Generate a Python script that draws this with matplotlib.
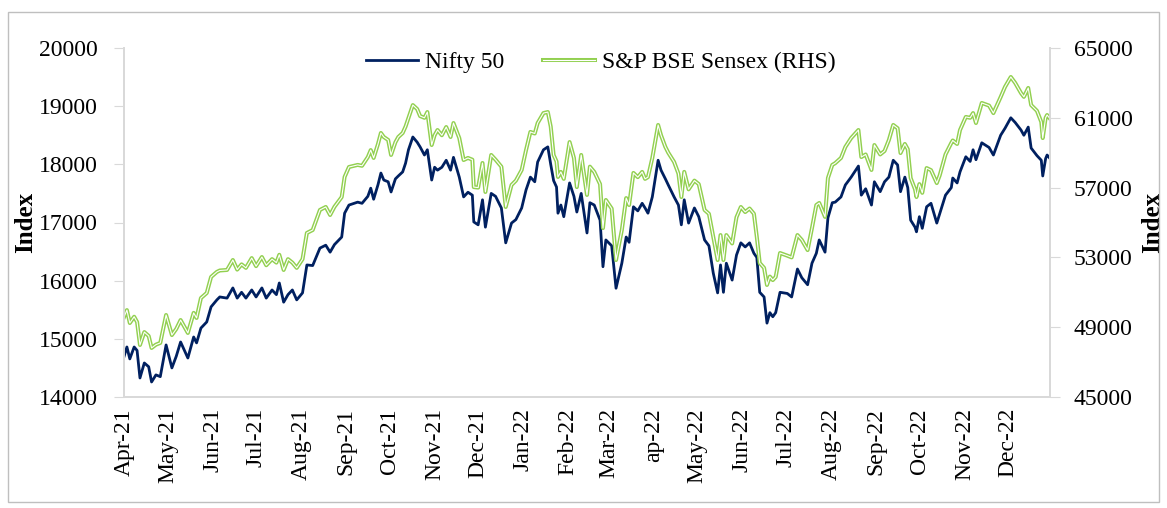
import matplotlib.pyplot as plt
import matplotlib.patheffects as pe
from matplotlib.patches import Rectangle
import pandas as pd

plt.rcParams['font.family'] = ['Liberation Serif', 'DejaVu Serif']

dates = [
    "2021-04-01", "2021-04-03", "2021-04-05", "2021-04-08", "2021-04-10", "2021-04-12",
    "2021-04-15", "2021-04-18", "2021-04-20", "2021-04-23", "2021-04-26", "2021-04-30",
    "2021-05-04", "2021-05-07", "2021-05-10", "2021-05-15", "2021-05-19", "2021-05-21",
    "2021-05-24", "2021-05-28", "2021-05-31", "2021-06-04", "2021-06-06", "2021-06-11",
    "2021-06-15", "2021-06-18", "2021-06-21", "2021-06-24", "2021-06-28", "2021-07-01",
    "2021-07-05", "2021-07-08", "2021-07-12", "2021-07-15", "2021-07-17", "2021-07-20",
    "2021-07-23", "2021-07-26", "2021-07-29", "2021-08-02", "2021-08-05", "2021-08-09",
    "2021-08-14", "2021-08-18", "2021-08-21", "2021-08-24", "2021-08-29", "2021-08-31",
    "2021-09-03", "2021-09-09", "2021-09-12", "2021-09-16", "2021-09-18", "2021-09-20",
    "2021-09-23", "2021-09-25", "2021-09-27", "2021-09-30", "2021-10-02", "2021-10-05",
    "2021-10-07", "2021-10-10", "2021-10-12", "2021-10-14", "2021-10-17", "2021-10-20",
    "2021-10-22", "2021-10-25", "2021-10-27", "2021-10-30", "2021-11-01", "2021-11-03",
    "2021-11-06", "2021-11-09", "2021-11-12", "2021-11-14", "2021-11-18", "2021-11-21",
    "2021-11-24", "2021-11-27", "2021-11-28", "2021-12-01", "2021-12-04", "2021-12-06",
    "2021-12-10", "2021-12-13", "2021-12-17", "2021-12-20", "2021-12-24", "2021-12-27",
    "2021-12-31", "2022-01-03", "2022-01-06", "2022-01-09", "2022-01-11", "2022-01-15",
    "2022-01-18", "2022-01-20", "2022-01-22", "2022-01-24", "2022-01-25", "2022-01-27",
    "2022-01-29", "2022-02-02", "2022-02-05", "2022-02-07", "2022-02-10", "2022-02-14",
    "2022-02-16", "2022-02-19", "2022-02-23", "2022-02-25", "2022-02-27", "2022-03-03",
    "2022-03-06", "2022-03-10", "2022-03-13", "2022-03-15", "2022-03-18", "2022-03-21",
    "2022-03-24", "2022-03-26", "2022-03-28", "2022-03-31", "2022-04-04", "2022-04-06",
    "2022-04-09", "2022-04-11", "2022-04-15", "2022-04-18", "2022-04-20", "2022-04-22",
    "2022-04-25", "2022-04-29", "2022-05-02", "2022-05-06", "2022-05-09", "2022-05-12",
    "2022-05-15", "2022-05-17", "2022-05-19", "2022-05-21", "2022-05-25", "2022-05-28",
    "2022-05-31", "2022-06-03", "2022-06-06", "2022-06-09", "2022-06-11", "2022-06-13",
    "2022-06-16", "2022-06-18", "2022-06-20", "2022-06-22", "2022-06-24", "2022-06-27",
    "2022-07-02", "2022-07-05", "2022-07-09", "2022-07-12", "2022-07-16", "2022-07-19",
    "2022-07-22", "2022-07-24", "2022-07-28", "2022-07-30", "2022-08-02", "2022-08-04",
    "2022-08-08", "2022-08-11", "2022-08-15", "2022-08-20", "2022-08-22", "2022-08-25",
    "2022-08-29", "2022-08-31", "2022-09-04", "2022-09-07", "2022-09-10", "2022-09-13",
    "2022-09-16", "2022-09-18", "2022-09-21", "2022-09-23", "2022-09-25", "2022-09-28",
    "2022-09-29", "2022-10-01", "2022-10-03", "2022-10-06", "2022-10-09", "2022-10-13",
    "2022-10-15", "2022-10-19", "2022-10-23", "2022-10-24", "2022-10-27", "2022-10-29",
    "2022-11-02", "2022-11-05", "2022-11-07", "2022-11-09", "2022-11-13", "2022-11-18",
    "2022-11-21", "2022-11-26", "2022-11-29", "2022-12-03", "2022-12-06", "2022-12-10",
    "2022-12-12", "2022-12-15", "2022-12-17", "2022-12-21", "2022-12-24", "2022-12-25",
    "2022-12-27", "2022-12-28", "2022-12-30",
]

nifty = [
    14693, 14860, 14655, 14860, 14800, 14327, 14585, 14520, 14258, 14380, 14350, 14895,
    14500, 14700, 14946, 14670, 15032, 14930, 15185, 15290, 15550, 15670, 15720, 15700,
    15875, 15700, 15800, 15700, 15840, 15720, 15875, 15700, 15840, 15760, 15960, 15630,
    15760, 15840, 15670, 15790, 16270, 16260, 16560, 16610, 16490, 16620, 16750, 17160,
    17300, 17350, 17330, 17450, 17590, 17400, 17650, 17850, 17730, 17700, 17525, 17750,
    17800, 17870, 18020, 18250, 18470, 18380, 18300, 18160, 18250, 17730, 17950, 17900,
    17950, 18070, 17900, 18120, 17780, 17440, 17520, 17470, 17010, 16960, 17390, 16920,
    17500, 17450, 17250, 16650, 16990, 17050, 17250, 17560, 17780, 17700, 18040, 18250,
    18300, 18000, 17720, 17610, 17160, 17300, 17100, 17680, 17450, 17180, 17500, 16820,
    17340, 17300, 17040, 16240, 16700, 16600, 15870, 16300, 16750, 16660, 17270, 17200,
    17330, 17250, 17160, 17440, 18070, 17900, 17750, 17645, 17440, 17300, 16960, 17390,
    16990, 17250, 17100, 16700, 16600, 16130, 15790, 16270, 15800, 16300, 16010, 16440,
    16650, 16580, 16650, 16470, 16400, 15800, 15720, 15270, 15450, 15380, 15450, 15800,
    15780, 15720, 16200, 16050, 15930, 16300, 16470, 16700, 16490, 17080, 17340, 17350,
    17440, 17645, 17780, 17970, 17470, 17580, 17300, 17700, 17530, 17700, 17780, 18070,
    17990, 17530, 17780, 17600, 17040, 16920, 16840, 17100, 16900, 17270, 17330, 16990,
    17150, 17470, 17600, 17765, 17680, 17870, 18130, 18050, 18250, 18080, 18370, 18290,
    18160, 18500, 18620, 18800, 18720, 18590, 18500, 18640, 18280, 18150, 18070, 17800,
    18100, 18160, 18100,
]

sensex = [
    49580, 49980, 49240, 49600, 49300, 47980, 48720, 48500, 47810, 48000, 48100, 49700,
    48550, 48900, 49410, 48670, 49820, 49530, 50670, 50960, 51880, 52170, 52250, 52280,
    52850, 52300, 52600, 52400, 52960, 52500, 53020, 52550, 52900, 52700, 53150, 52280,
    52900, 52700, 52400, 52900, 54400, 54570, 55720, 55890, 55430, 55900, 56460, 57610,
    58180, 58300, 58250, 58750, 59150, 58700, 59500, 60130, 59900, 59730, 58870, 59600,
    59900, 60130, 60500, 61000, 61730, 61500, 61100, 61000, 61330, 59440, 60000, 60300,
    60000, 60470, 59900, 60700, 59840, 58580, 58700, 58600, 57030, 57000, 58410, 56750,
    58870, 58600, 58200, 55890, 57150, 57400, 58010, 59150, 60190, 60100, 60700, 61270,
    61330, 60500, 58870, 58500, 57610, 57900, 57500, 59610, 58700, 57030, 58870, 56580,
    58200, 57900, 57200, 54680, 56290, 55800, 52850, 54570, 56400, 56000, 57840, 57600,
    57900, 57500, 57600, 58700, 60590, 60000, 59330, 59000, 58470, 57800, 56460, 57900,
    56900, 57400, 57200, 55720, 55500, 54170, 52850, 54280, 52850, 54280, 53800, 55300,
    55890, 55600, 55800, 55500, 54170, 52680, 52400, 51420, 51900, 51700, 51880, 53250,
    53100, 53000, 54280, 54000, 53420, 54680, 56000, 56120, 55320, 57550, 58300, 58400,
    58700, 59330, 59840, 60300, 58750, 58900, 58010, 59440, 58900, 59100, 59730, 60590,
    60400, 58980, 59500, 59200, 57550, 56900, 56460, 57200, 56700, 58120, 58000, 57260,
    57700, 58900, 59560, 59700, 59500, 60300, 61050, 61000, 61270, 60700, 61850, 61700,
    61270, 62190, 62770, 63340, 63000, 62420, 62200, 62710, 61730, 61400, 60760, 59840,
    61000, 61160, 60950,
]

month_labels = [
    "Apr-21", "May-21", "Jun-21", "Jul-21", "Aug-21", "Sep-21", "Oct-21", "Nov-21",
    "Dec-21", "Jan-22", "Feb-22", "Mar-22", "ap-22", "May-22", "Jun-22", "Jul-22",
    "Aug-22", "Sep-22", "Oct-22", "Nov-22", "Dec-22",
]

t = pd.to_datetime(dates)
month_ticks = pd.date_range("2021-04-01", "2022-12-01", freq="MS")

fig = plt.figure(figsize=(11.67, 5.08), dpi=100)
fig.patches.append(Rectangle((8 / 1167, 6 / 508), 1151 / 1167, 490 / 508,
                             transform=fig.transFigure, fill=False,
                             edgecolor="#bfbfbf", linewidth=1.0))
ax = fig.add_axes([124 / 1167, 1 - 397 / 508, 926 / 1167, 349 / 508])
ax2 = ax.twinx()

navy = "#002060"
green = "#92d050"

l1, = ax.plot(t, nifty, color=navy, lw=2.0, label="Nifty 50")
l2, = ax2.plot(t, sensex, color="white", lw=0.8, label="S&P BSE Sensex (RHS)",
               path_effects=[pe.Stroke(linewidth=2.9, foreground=green), pe.Normal()])

ax.set_xlim(t[0], t[-1])
ax.set_ylim(14000, 20000)
ax.set_yticks(range(14000, 20001, 1000))
ax2.set_ylim(45000, 65000)
ax2.set_yticks(range(45000, 65001, 4000))

ax.set_xticks(month_ticks)
ax.set_xticklabels(month_labels, rotation=90, fontsize=17)
ax.tick_params(axis="x", length=0, pad=8)
ax.tick_params(axis="y", labelsize=17, length=7, color="#d9d9d9", pad=12)
ax2.tick_params(axis="y", labelsize=17, length=7, color="#d9d9d9", pad=10)

for a in (ax, ax2):
    for s in a.spines.values():
        s.set_color("#d9d9d9")
        s.set_linewidth(1.3)
    a.spines["top"].set_visible(False)

ax.set_ylabel("Index", fontsize=18, fontweight="bold", labelpad=1)
ax2.set_ylabel("Index", fontsize=18, fontweight="bold", labelpad=6)

leg = ax.legend([l1, l2], [l1.get_label(), l2.get_label()], loc="upper center",
                bbox_to_anchor=(0.515, 1.05), ncol=2, frameon=False,
                fontsize=17, handlelength=2.2, columnspacing=1.65, handletextpad=0.3)

fig.savefig("out.png", dpi=100)
